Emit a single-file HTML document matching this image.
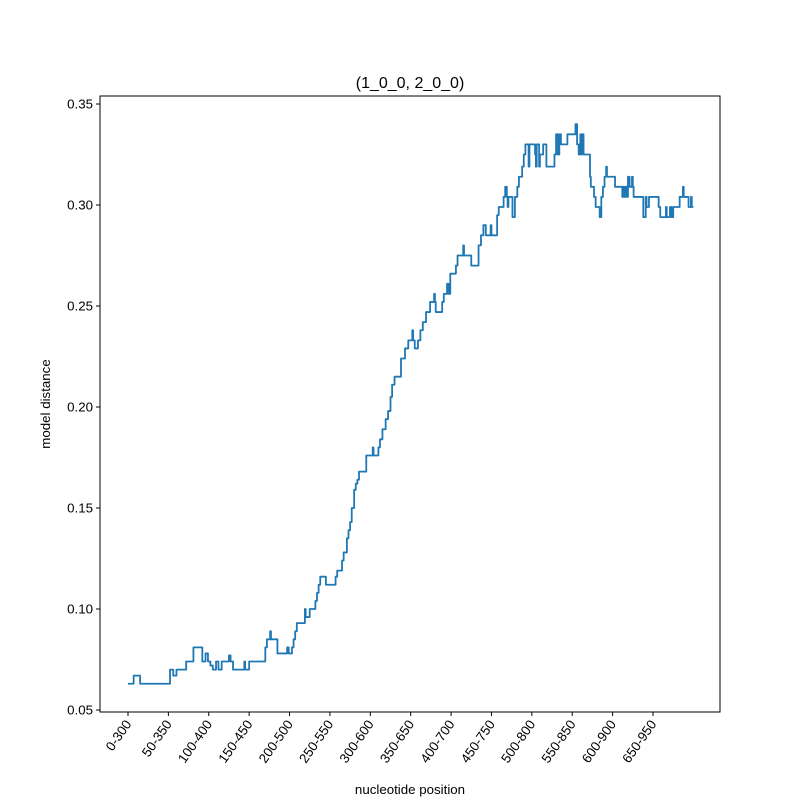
<!DOCTYPE html>
<html><head><meta charset="utf-8"><style>
body{margin:0;background:#fff}
svg text{font-family:"Liberation Sans","DejaVu Sans",sans-serif;fill:#000}
</style></head><body>
<svg id="chart" width="800" height="800" xmlns="http://www.w3.org/2000/svg">
<rect x="0" y="0" width="800" height="800" fill="#fff"/>
<text x="410" y="88" font-size="16" text-anchor="middle">(1_0_0, 2_0_0)</text>
<g id="yticks"></g>
<g id="xticks"></g>
<path id="series" fill="none" stroke="#1f77b4" stroke-width="1.8" stroke-linejoin="round"/>
<rect x="100" y="96" width="620" height="616" fill="none" stroke="#000" stroke-width="1"/>
<text x="410" y="794" font-size="13.3" text-anchor="middle">nucleotide position</text>
<text x="50" y="404" font-size="13.3" text-anchor="middle" transform="rotate(-90 50 404)">model distance</text>
</svg>
<script>
const xTickLabels=["0-300","50-350","100-400","150-450","200-500","250-550","300-600","350-650","400-700","450-750","500-800","550-850","600-900","650-950"];
const xTickValues=[0,50,100,150,200,250,300,350,400,450,500,550,600,650];
const yTickValues=[0.05,0.10,0.15,0.20,0.25,0.30,0.35];
const yTickLabels=["0.05","0.10","0.15","0.20","0.25","0.30","0.35"];
const positions=[0,7,15,52,56,60,72,81,92,96,99,102,105,109,112,116,125,127,130,144,145,150,170,172,176,177,185,197,199,203,205,207,209,219,220,225,232,234,236,238,245,257,259,265,267,271,273,275,277,280,282,284,286,295,303,304,310,312,315,319,322,325,327,330,338,343,347,352,353,355,359,362,365,369,374,379,380,381,389,391,395,397,399,406,408,415,416,425,434,437,440,443,449,450,457,459,465,467,469,470,471,476,479,482,484,488,490,492,496,497,504,505,506,509,510,514,518,528,530,532,534,536,544,554,556,558,560,561,562,564,572,573,577,579,581,584,586,588,590,592,593,603,612,613,615,616,618,619,621,624,625,626,638,641,642,645,657,659,666,667,671,673,675,683,687,688,694,697,698,700];
const distances=[.063,.067,.063,.070,.067,.070,.074,.081,.074,.078,.074,.072,.070,.074,.070,.074,.077,.074,.070,.074,.070,.074,.081,.085,.089,.085,.078,.081,.078,.081,.085,.089,.093,.100,.096,.100,.104,.108,.112,.116,.112,.116,.119,.124,.128,.135,.139,.143,.150,.159,.162,.164,.168,.176,.180,.176,.180,.184,.189,.194,.198,.205,.211,.215,.224,.229,.233,.238,.233,.229,.233,.238,.242,.247,.252,.256,.252,.247,.252,.256,.261,.256,.266,.270,.275,.280,.275,.270,.280,.285,.290,.285,.290,.285,.295,.299,.304,.309,.304,.299,.304,.294,.304,.309,.314,.319,.325,.330,.319,.330,.325,.319,.330,.319,.325,.330,.319,.325,.335,.325,.335,.330,.335,.340,.330,.325,.335,.325,.335,.325,.314,.309,.304,.299,.299,.294,.304,.309,.314,.319,.314,.309,.304,.309,.304,.309,.304,.314,.309,.314,.309,.304,.294,.304,.299,.304,.299,.294,.299,.294,.299,.294,.299,.304,.309,.304,.299,.304,.299,.299];
const xs=v=>128+v*(525/650);
const ys=v=>710-(v-0.05)*2020;
const NS="http://www.w3.org/2000/svg";
const yg=document.getElementById('yticks'),xg=document.getElementById('xticks');
yTickValues.forEach((v,i)=>{
 const l=document.createElementNS(NS,'line');
 l.setAttribute('x1',96);l.setAttribute('x2',100);l.setAttribute('y1',ys(v));l.setAttribute('y2',ys(v));l.setAttribute('stroke','#000');
 
 
 yg.appendChild(l);
 const t=document.createElementNS(NS,'text');
 t.setAttribute('x',93);t.setAttribute('y',ys(v)+4.5);t.setAttribute('font-size','13.3');t.setAttribute('text-anchor','end');
 t.textContent=yTickLabels[i];
 
 
 yg.appendChild(t);
});
xTickValues.forEach((v,i)=>{
 const x=xs(v);
 const l=document.createElementNS(NS,'line');
 l.setAttribute('x1',x);l.setAttribute('x2',x);l.setAttribute('y1',712);l.setAttribute('y2',716);l.setAttribute('stroke','#000');
 
 
 xg.appendChild(l);
 const t=document.createElementNS(NS,'text');
 t.setAttribute('x',x+4);t.setAttribute('y',724);t.setAttribute('font-size','13.3');t.setAttribute('text-anchor','end');
 t.setAttribute('transform','rotate(-55 '+(x+4)+' 724)');
 t.textContent=xTickLabels[i];
 
 
 xg.appendChild(t);
});
let d='M'+xs(positions[0])+' '+ys(distances[0]);
for(let i=1;i<positions.length;i++){
 d+=' H'+xs(positions[i])+' V'+ys(distances[i]);
}
document.getElementById('series').setAttribute('d',d);
</script>
</body></html>
